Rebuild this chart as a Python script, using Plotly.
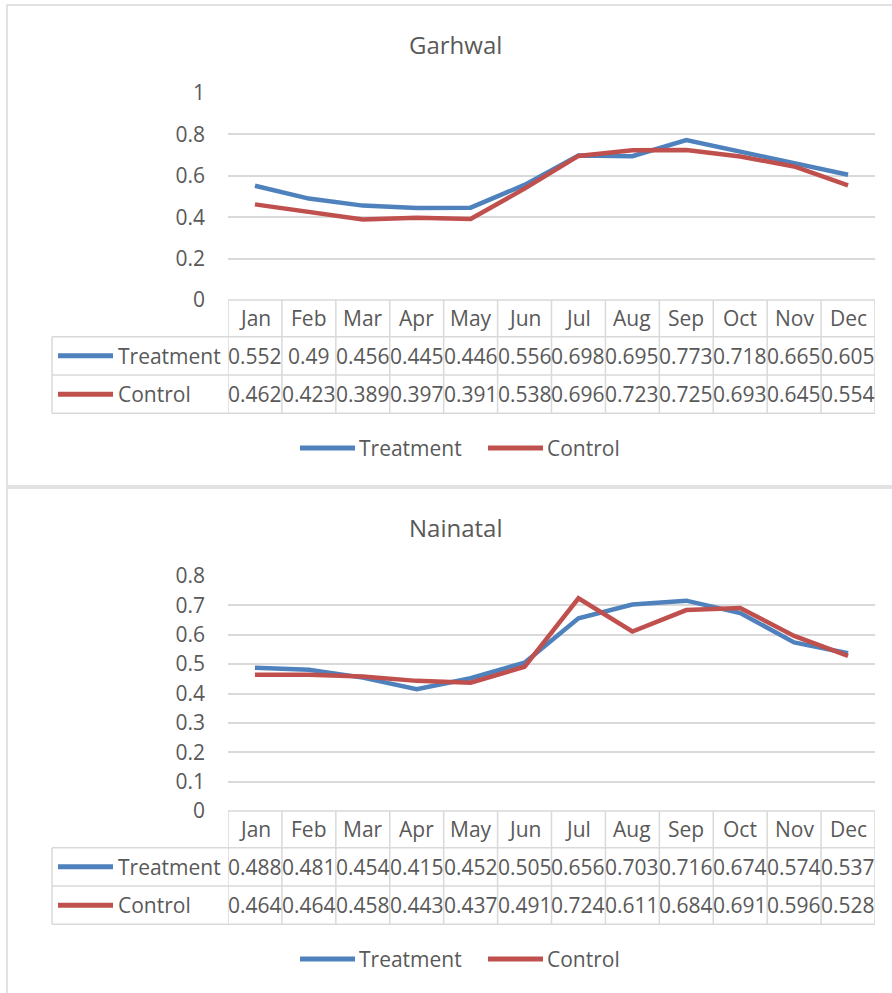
import plotly.graph_objects as go

months = ["Jan", "Feb", "Mar", "Apr", "May", "Jun", "Jul", "Aug", "Sep", "Oct", "Nov", "Dec"]

garhwal_treatment = [0.552, 0.49, 0.456, 0.445, 0.446, 0.556, 0.698, 0.695, 0.773, 0.718, 0.665, 0.605]
garhwal_control = [0.462, 0.423, 0.389, 0.397, 0.391, 0.538, 0.696, 0.723, 0.725, 0.693, 0.645, 0.554]

nainatal_treatment = [0.488, 0.481, 0.454, 0.415, 0.452, 0.505, 0.656, 0.703, 0.716, 0.674, 0.574, 0.537]
nainatal_control = [0.464, 0.464, 0.458, 0.443, 0.437, 0.491, 0.724, 0.611, 0.684, 0.691, 0.596, 0.528]

W, H = 892, 993
BLUE = "#4F81BD"
RED = "#C0504D"
GRID = "#d9d9d9"
TXT = "#595959"
FONT = "Open Sans"
FS = 21


def px(x):
    return x / W


def py(y):
    return 1 - y / H


fig = go.Figure()
shapes = []
annos = []


def label(text, x, y, xref="paper", xanchor="center", size=FS):
    annos.append(dict(text=text, xref=xref, yref="paper", x=x, y=y,
                      xanchor=xanchor, yanchor="middle", showarrow=False,
                      font=dict(family=FONT, size=size, color=TXT)))


def hline(x0, x1, y, xref="paper", color=GRID, width=1.5):
    shapes.append(dict(type="line", xref=xref, yref="paper", x0=x0, x1=x1,
                       y0=py(y), y1=py(y), line=dict(color=color, width=width)))


def panel(n, title, treat, ctrl, top, y0, ymax, dtick):
    # top = pixel row of the chart box top, y0 = pixel row of value 0
    xa = "x" if n == 1 else "x2"
    ya = "y" if n == 1 else "y2"
    plot_top = top + 88
    fig.add_trace(go.Scatter(x=months, y=treat, name="Treatment", mode="lines",
                             line=dict(color=BLUE, width=4.5), xaxis=xa, yaxis=ya, showlegend=False))
    fig.add_trace(go.Scatter(x=months, y=ctrl, name="Control", mode="lines",
                             line=dict(color=RED, width=4.5), xaxis=xa, yaxis=ya, showlegend=False))

    axis_x = dict(domain=[px(228), px(875)], range=[-0.5, 11.5], showticklabels=False,
                  showgrid=False, zeroline=False, showline=False, anchor=ya, automargin=False)
    axis_y = dict(domain=[py(y0), py(plot_top)], range=[0, ymax], dtick=dtick,
                  showgrid=True, gridcolor=GRID, gridwidth=1.5, zeroline=False,
                  showline=False, ticklabelstandoff=22, anchor=xa, automargin=False,
                  tickfont=dict(family=FONT, size=FS, color=TXT))
    if n == 1:
        fig.update_layout(xaxis=axis_x, yaxis=axis_y)
    else:
        fig.update_layout(xaxis2=axis_x, yaxis2=axis_y)

    # chart box
    shapes.append(dict(type="rect", xref="paper", yref="paper", x0=px(7), x1=1.05,
                       y0=py(top + 481) if n == 1 else -0.05, y1=py(top),
                       line=dict(color=GRID, width=1.5), layer="below"))

    label(title, px(455), py(top + 39), size=24)

    # data table under the plot
    r0, r1, r2, r3 = y0, y0 + 36.7, y0 + 75, y0 + 113.3
    hline(-0.5, 11.5, r0, xref=xa)
    for ry in (r1, r2, r3):
        hline(px(52), px(875), ry)
    shapes.append(dict(type="line", xref="paper", yref="paper", x0=px(52), x1=px(52),
                       y0=py(r1), y1=py(r3), line=dict(color=GRID, width=1.5)))
    for i in range(len(months) + 1):
        shapes.append(dict(type="line", xref=xa, yref="paper", x0=i - 0.5, x1=i - 0.5,
                           y0=py(r0), y1=py(r3), line=dict(color=GRID, width=1.5)))
    for i, m in enumerate(months):
        label(m, i, py((r0 + r1) / 2), xref=xa)
        label(f"{treat[i]:g}", i, py((r1 + r2) / 2), xref=xa)
        label(f"{ctrl[i]:g}", i, py((r2 + r3) / 2), xref=xa)
    for name, col, cy in (("Treatment", BLUE, (r1 + r2) / 2), ("Control", RED, (r2 + r3) / 2)):
        hline(px(58), px(113), cy, color=col, width=5)
        label(name, px(116), py(cy), xanchor="left")

    # legend below the table
    ly = y0 + 148
    for name, col, lx in (("Treatment", BLUE, 300), ("Control", RED, 488)):
        hline(px(lx), px(lx + 55), ly, color=col, width=5)
        label(name, px(lx + 57), py(ly), xanchor="left")


panel(1, "Garhwal", garhwal_treatment, garhwal_control, 5, 300, 1, 0.2)
panel(2, "Nainatal", nainatal_treatment, nainatal_control, 488, 811, 0.8, 0.1)

fig.update_layout(width=W, height=H, margin=dict(l=0, r=0, t=0, b=0, autoexpand=False),
                  paper_bgcolor="white", plot_bgcolor="white",
                  shapes=shapes, annotations=annos,
                  font=dict(family=FONT, color=TXT))

fig.write_html("out.html", config={"displayModeBar": False},
               post_script="document.body.style.margin='0';document.body.style.overflow='hidden';")
